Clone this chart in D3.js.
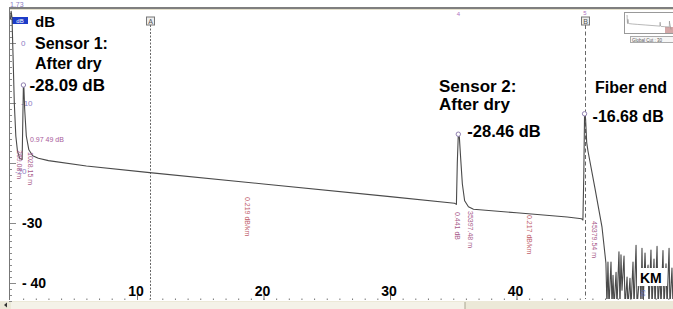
<!DOCTYPE html>
<html>
<head>
<meta charset="utf-8">
<script src="https://cdn.jsdelivr.net/npm/d3@7"></script>
<style>
body { margin: 0; background: #fff; overflow: hidden; }
svg { display: block; font-family: "Liberation Sans", Arial, sans-serif; }
</style>
</head>
<body>
<svg></svg>
<script>

// OTDR trace, distance in km, level in dB
var fiberKm = [0.0, 0.05, 0.12, 0.2, 0.3, 0.42, 0.55, 0.72, 0.92, 0.98, 1.02, 1.06, 1.12, 1.25, 1.45, 1.75, 2.2, 3.0, 6.0, 11.0, 20.0, 30.0,
    35.1, 35.25, 35.32, 35.4, 35.48, 35.58, 35.72, 35.9, 36.2, 36.6, 40.0, 44.0, 45.15, 45.25, 45.32, 45.38, 45.46, 45.55, 45.65, 46.2, 46.76, 47.07]
var fiberDb = [4.0, 5.3, 4.2, -2, -10, -15.5, -18, -19.2, -19.4, -12, -7.0, -7.5, -11, -15.5, -17.8, -18.8, -19.2, -19.6, -20.5, -21.6, -23.5, -25.6,
    -26.7, -26.9, -20, -15.2, -15.6, -19, -23.5, -26.3, -27.3, -27.7, -28.3, -29.0, -29.3, -29.5, -22, -11.8, -12.6, -16.6, -18, -24.2, -30.7, -36.7]

var noiseKm = [47.15, 47.23, 47.31, 47.47, 47.55, 47.63, 47.71, 47.87, 47.94, 48.10, 48.18, 48.26, 48.34, 48.50, 48.58, 48.74, 48.81, 48.97,
    49.05, 49.21, 49.29, 49.45, 49.53, 49.76, 49.84, 49.92, 50.00, 50.16, 50.24, 50.40, 50.47, 50.63, 50.71, 50.87, 50.95, 51.11, 51.19,
    51.34, 51.42, 51.58, 51.66, 51.82, 51.90, 52.06, 52.13, 52.29, 52.37]
var noiseDb = [-44, -36.5, -44, -36.5, -44, -38.7, -44, -38.2, -44, -34.8, -44, -35.3, -41.2, -35.5, -44, -39, -44, -39.2,
    -44, -36.5, -44, -33.7, -44, -37.8, -44, -34.2, -44, -35, -40.3, -37, -44, -34.5, -44, -36, -44, -33.9, -44,
    -38, -44, -34.6, -44, -36.8, -44, -34.2, -44, -37.5, -44]

var kmLabels = [10, 20, 30, 40]
var dbSmall = [0, -10, -20]
var dbBig = [-30, -40]
var dbBigText = ["-30", "- 40"]

var peakKm = [1.02, 35.4, 45.38]
var peakDb = [-7.0, -15.2, -11.8]

var cursorKm = [11.03, 45.4]
var cursorNames = ["A", "B"]

var eventKm = [0.5, 1.4, 18.5, 35.1, 36.15, 40.8, 45.95]
var eventText = ["269.08 m", "1028.15 m", "0.219 dB/km", "0.441 dB", "35397.48 m", "0.217 dB/km", "45379.54 m"]

var notes1 = ["Sensor 1:", "After dry", "-28.09 dB"]
var notes2 = ["Sensor 2:", "After dry", "-28.46 dB"]
var notes3 = ["Fiber end", "-16.68 dB"]

var win_width = 673;
var win_height = 309;

var svg = d3.select("svg");

var plot_left = 9;
var plot_top = 8;
var plot_bottom = 299;

var xScale;
var yScale;

function setup() {
    svg.attr("width", win_width).attr("height", win_height);
    svg.append("rect").attr("width", win_width).attr("height", win_height).attr("fill", "#fff");

    svg.append("clipPath").attr("id", "plot")
        .append("rect")
        .attr("x", plot_left).attr("y", plot_top)
        .attr("width", win_width - plot_left).attr("height", plot_bottom - plot_top);
}

function prepareScale() {
    xScale = d3.scaleLinear().domain([0, 10]).range([10.5, 137]);
    yScale = d3.scaleLinear().domain([0, -40]).range([43, 283]);
}

function zip(xs, ys) {
    return xs.map((v, i) => { return {x: v, y: ys[i]} })
}

function drawAxis() {
    // scroll bar band at the bottom
    svg.append("rect").attr("x", 0).attr("y", 301).attr("width", win_width).attr("height", 8).attr("fill", "#ece9d8");
    svg.append("rect").attr("x", 11).attr("y", 302).attr("width", 454).attr("height", 7).attr("fill", "#f4f2e8");
    svg.append("line").attr("x1", 465).attr("x2", 465).attr("y1", 302).attr("y2", 309).attr("stroke", "#a9a690");
    svg.append("path").attr("d", "M7,302.5 L4,305 L7,307.5 Z").attr("fill", "#333");

    // top frame line
    svg.append("line").attr("x1", plot_left).attr("x2", win_width).attr("y1", plot_top).attr("y2", plot_top)
        .attr("stroke", "#555").attr("stroke-width", 1.5);
    svg.append("line").attr("x1", plot_left).attr("x2", win_width).attr("y1", plot_top + 1.5).attr("y2", plot_top + 1.5)
        .attr("stroke", "#e4e0cc").attr("stroke-width", 1);

    var yMinor = d3.axisRight(yScale).tickValues(d3.range(-43, 6, 1)).tickSize(3).tickFormat("");
    var yMajor = d3.axisRight(yScale).tickValues([0, -10, -20, -30, -40]).tickSize(7).tickFormat("");

    var gy = svg.append("g").attr("transform", "translate(" + plot_left + ",0)");
    gy.call(yMinor);
    gy.append("g").call(yMajor);
    gy.selectAll(".domain").remove();
    gy.selectAll("line").attr("stroke", "#8a8a8a");
    gy.append("line").attr("x1", 0.5).attr("x2", 0.5).attr("y1", plot_top).attr("y2", 300).attr("stroke", "#777");

    var xMinor = d3.axisTop(xScale).tickValues(d3.range(1, 53, 1)).tickSize(1.5).tickFormat("");
    var xMajor = d3.axisTop(xScale).tickValues([10, 20, 30, 40, 50]).tickSize(5).tickFormat("");
    var gx = svg.append("g").attr("transform", "translate(0,300)");
    gx.call(xMinor);
    gx.append("g").call(xMajor);
    gx.selectAll(".domain").remove();
    gx.selectAll("line").attr("stroke", "#777");

    // big tick labels
    svg.selectAll(".kmlab").data(kmLabels).enter().append("text")
        .attr("x", d => xScale(d) - 1)
        .attr("y", 296)
        .attr("text-anchor", "middle")
        .attr("font-size", 14).attr("font-weight", "bold")
        .text(d => d);

    svg.selectAll(".dblab").data(dbBig).enter().append("text")
        .attr("x", 22)
        .attr("y", d => yScale(d) + 5)
        .attr("font-size", 14).attr("font-weight", "bold")
        .text((d, i) => dbBigText[i]);

    svg.selectAll(".dbsmall").data(dbSmall).enter().append("text")
        .attr("x", (d, i) => i == 2 ? 15 : 21)
        .attr("y", (d, i) => yScale(d) + 3 + (i == 2 ? 8 : 0))
        .attr("font-size", 8).attr("fill", "#8c7cc4")
        .text(d => d);

    svg.append("text").attr("x", 10).attr("y", 7).attr("font-size", 7).attr("fill", "#8c7cc4").text("1.73");
    svg.append("rect").attr("x", 12).attr("y", 17).attr("width", 16).attr("height", 7).attr("fill", "#1c3cc8");
    svg.append("text").attr("x", 20).attr("y", 23).attr("text-anchor", "middle").attr("font-size", 6).attr("fill", "#fff").text("dB");
}

function drawCursors() {
    cursorKm.forEach(function(value, index) {
        var x = Math.round(xScale(value)) + 0.5;
        svg.append("line")
            .attr("x1", x).attr("x2", x).attr("y1", 25).attr("y2", 299)
            .attr("stroke", "#666").attr("stroke-dasharray", index == 0 ? "2,1.5" : "4,2.5");
        svg.append("rect").attr("x", x - 4).attr("y", 17).attr("width", 8).attr("height", 8)
            .attr("fill", "#eee").attr("stroke", "#777");
        svg.append("text").attr("x", x).attr("y", 23.5).attr("text-anchor", "middle")
            .attr("font-size", 7).attr("fill", "#555").text(cursorNames[index]);
    });
    svg.append("text").attr("x", xScale(35.4)).attr("y", 16).attr("text-anchor", "middle")
        .attr("font-size", 6).attr("fill", "#b070c0").text("4");
    svg.append("text").attr("x", xScale(45.4)).attr("y", 15).attr("text-anchor", "middle")
        .attr("font-size", 6).attr("fill", "#b070c0").text("5");
}

function drawLine() {
    var line = d3.line().x(d => xScale(d.x)).y(d => yScale(d.y));
    var g = svg.append("g").attr("clip-path", "url(#plot)");

    g.append("path")
        .attr("d", line(zip(fiberKm, fiberDb).concat(zip(noiseKm, noiseDb))))
        .attr("fill", "none")
        .attr("stroke", "#4a4a4a")
        .attr("stroke-width", 1.1)
        .attr("stroke-linejoin", "round");

    g.selectAll(".peak").data(peakKm).enter().append("circle")
        .attr("cx", d => xScale(d))
        .attr("cy", (d, i) => yScale(peakDb[i]))
        .attr("r", 2.2)
        .attr("fill", "#fff")
        .attr("stroke", "#9080b0");

    // event labels (rotated)
    svg.selectAll(".ev").data(eventKm).enter().append("text")
        .attr("transform", (d, i) => "translate(" + xScale(d) + "," + [150, 152, 197, 212, 211, 215, 221][i] + ") rotate(90)")
        .attr("font-size", 7)
        .attr("fill", (d, i) => (i == 2 || i == 5) ? "#c0606c" : "#a85a8a")
        .text((d, i) => eventText[i]);

    svg.append("text").attr("x", 30).attr("y", 142).attr("font-size", 7).attr("fill", "#a85a9a").text("0.97 49 dB");
}

function drawInset() {
    var ix = d3.scaleLinear().domain([0, 52.4]).range([627, 676]);
    var iy = d3.scaleLinear().domain([6, -44]).range([15, 32]);
    var g = svg.append("g");
    g.append("rect").attr("x", 624.5).attr("y", 12.5).attr("width", 52).attr("height", 21).attr("fill", "#fff").attr("stroke", "#999");
    g.append("rect").attr("x", 665).attr("y", 27).attr("width", 10).attr("height", 6).attr("fill", "#d4a8a8");
    g.append("path")
        .attr("d", d3.line().x(d => ix(d.x)).y(d => iy(d.y))(zip(fiberKm, fiberDb)))
        .attr("fill", "none").attr("stroke", "#888").attr("stroke-width", 0.6);
    g.append("rect").attr("x", 630.5).attr("y", 36.5).attr("width", 45).attr("height", 6).attr("fill", "#f6f6f6").attr("stroke", "#aaa");
    g.append("text").attr("x", 632).attr("y", 41.5).attr("font-size", 4.5).attr("fill", "#555").text("Global Cut : 30");
}

function drawNotes() {
    svg.append("text").attr("x", 35).attr("y", 27).attr("font-size", 15).attr("font-weight", "bold").text("dB");

    var x1 = xScale(peakKm[0]);
    svg.selectAll(".n1").data(notes1).enter().append("text")
        .attr("x", (d, i) => i == 2 ? x1 + 6 : 35)
        .attr("y", (d, i) => [48.5, 69, 91][i])
        .attr("font-size", (d, i) => i == 2 ? 17 : 16)
        .attr("font-weight", "bold")
        .text(d => d);

    svg.selectAll(".n2").data(notes2).enter().append("text")
        .attr("x", (d, i) => i == 2 ? xScale(peakKm[1]) + 9 : 439)
        .attr("y", (d, i) => [92, 110, 137][i])
        .attr("font-size", (d, i) => i == 2 ? 16.5 : 17)
        .attr("font-weight", "bold")
        .text(d => d);

    svg.selectAll(".n3").data(notes3).enter().append("text")
        .attr("x", (d, i) => i == 1 ? xScale(peakKm[2]) + 8 : 595)
        .attr("y", (d, i) => [93, 122][i])
        .attr("font-size", 16)
        .attr("font-weight", "bold")
        .text(d => d);

    svg.append("rect").attr("x", 637).attr("y", 268).attr("width", 30).attr("height", 18).attr("fill", "#fff");
    svg.append("text").attr("x", 640).attr("y", 283).attr("font-size", 14).attr("font-weight", "bold").text("KM");
    svg.append("text").attr("transform", "translate(" + (xScale(50) - 2) + ",290) rotate(90)")
        .attr("font-size", 6).attr("fill", "#6070c0").text("50");
}

function draw() {
    setup();
    prepareScale();
    drawAxis();
    drawCursors();
    drawLine();
    drawInset();
    drawNotes();
}

draw();
</script>
</body>
</html>
